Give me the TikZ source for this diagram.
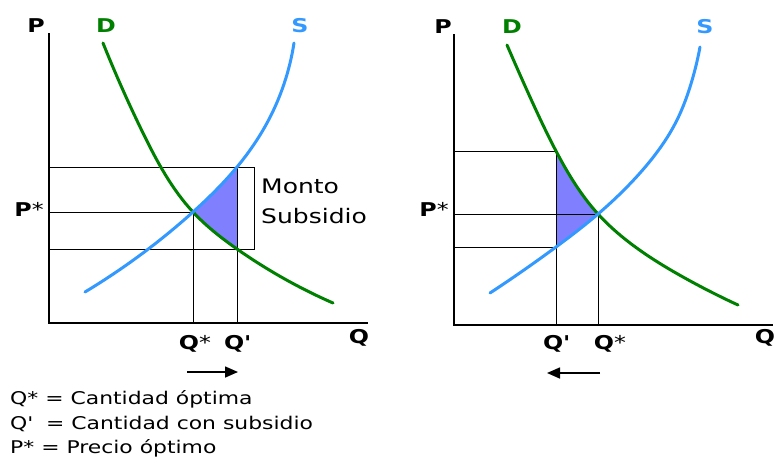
\documentclass[tikz,border=0pt]{standalone}
\usepackage{fontspec}
\setmainfont{DejaVu Sans}[FakeStretch=1.25]
\usetikzlibrary{arrows.meta,hobby}

\definecolor{demand}{RGB}{0,128,0}
\definecolor{supply}{RGB}{51,153,255}
\definecolor{subsidy}{RGB}{128,128,255}

\tikzset{
  axis/.style={line width=1.4pt},
  guide/.style={line width=1pt},
  curve/.style={line width=3pt, line cap=round},
  lbl/.style={font=\fontsize{19}{22}\selectfont\bfseries, inner sep=0pt},
  legendtext/.style={font=\fontsize{17.5}{22}\selectfont, anchor=base west, inner sep=0pt},
  move/.style={line width=1.6pt, -{Triangle[length=13pt,width=11pt]}},
}

\begin{document}
\begin{tikzpicture}[x=1pt,y=-1pt]
    \useasboundingbox (0,0) rectangle (776,456);

    % left panel: quantity goes up
    \coordinate (top1) at (49,33);
    \coordinate (o1) at (49,323);
    \coordinate (end1) at (368,323);
    \coordinate (e1) at (193,212);
    \coordinate (a1) at (237,167);
    \coordinate (b1) at (237,249);

    \begin{scope}
        \clip (0,0) rectangle (a1 |- o1);
        \clip (85,292) to[curve through={(143,253) (e1) (a1) (267,123)}] (294,43)
            -- (400,43) -- (400,400) -- (85,400) -- cycle;
        \fill [subsidy] (103,43) to[curve through={(143,133) (e1) (b1)}] (333,303)
            -- (400,303) -- (400,0) -- (103,0) -- cycle;
    \end{scope}

    \draw [guide] (a1) -- (a1 -| o1);
    \draw [guide] (e1) -- (e1 -| o1);
    \draw [guide] (b1) -- (b1 -| o1);
    \draw [guide] (e1) -- (e1 |- o1);
    \draw [guide] (a1) -- (a1 |- o1);
    \draw [guide] (a1) -- (254,167) -- (254,249) -- (b1);
    \draw [axis] (top1) -- (o1) -- (end1);

    \draw [curve, demand] (103,43) to[curve through={(143,133) (e1) (b1)}] (333,303);
    \draw [curve, supply] (85,292) to[curve through={(143,253) (e1) (a1) (267,123)}] (294,43);

    \node [lbl] (p1) at (36,26) {P};
    \node [lbl, demand] (d1) at (106,26) {D};
    \node [lbl, supply] (s1) at (300,26) {S};
    \node [lbl] (q1) at (359,338) {Q};
    \node [lbl] (pstar1) at (29,209) {P{\mdseries *}};
    \node [lbl] (qstar1) at (195,344) {Q{\mdseries *}};
    \node [lbl] (qsub1) at (237,344) {Q\textquotesingle};
    \node [font=\fontsize{20}{30}\selectfont, align=left, anchor=west, inner sep=0pt]
        (monto) at (261,201) {Monto\\Subsidio};

    \coordinate (m1) at (187,372);
    \coordinate (n1) at (238,372);
    \draw [move] (m1) -- (n1);

    % right panel: quantity goes down
    \coordinate (top2) at (454,34);
    \coordinate (o2) at (454,325);
    \coordinate (end2) at (773,325);
    \coordinate (e2) at (598,214);
    \coordinate (a2) at (556,151);
    \coordinate (b2) at (556,247);

    \begin{scope}
        \clip (a2 |- 0,0) rectangle (800,400);
        \clip (507,45) to[curve through={(530,97) (a2) (e2) (630,243) (683,277)}] (738,305)
            -- (738,400) -- (450,400) -- (450,45) -- cycle;
        \fill [subsidy] (490,293) to[curve through={(b2) (e2) (640,173) (677,120) (690,87)}] (700,47)
            -- (700,0) -- (450,0) -- (450,293) -- cycle;
    \end{scope}

    \draw [guide] (a2) -- (a2 -| o2);
    \draw [guide] (e2) -- (e2 -| o2);
    \draw [guide] (b2) -- (b2 -| o2);
    \draw [guide] (a2) -- (a2 |- o2);
    \draw [guide] (e2) -- (e2 |- o2);
    \draw [axis] (top2) -- (o2) -- (end2);

    \draw [curve, demand] (507,45) to[curve through={(530,97) (a2) (e2) (630,243) (683,277)}] (738,305);
    \draw [curve, supply] (490,293) to[curve through={(b2) (e2) (640,173) (677,120) (690,87)}] (700,47);

    \node [lbl] (p2) at (443,27) {P};
    \node [lbl, demand] (d2) at (512,27) {D};
    \node [lbl, supply] (s2) at (705,27) {S};
    \node [lbl] (q2) at (765,338) {Q};
    \node [lbl] (pstar2) at (434,209) {P{\mdseries *}};
    \node [lbl] (qsub2) at (556,344) {Q\textquotesingle};
    \node [lbl] (qstar2) at (610,344) {Q{\mdseries *}};

    \coordinate (m2) at (600,373);
    \coordinate (n2) at (547,373);
    \draw [move] (m2) -- (n2);

    % legend
    \node [legendtext] (leg1) at (10,404) {Q* = Cantidad óptima};
    \node [legendtext] (leg2) at (10,429) {Q\textquotesingle\ \ = Cantidad con subsidio};
    \node [legendtext] (leg3) at (10,453) {P* = Precio óptimo};
\end{tikzpicture}
\end{document}
